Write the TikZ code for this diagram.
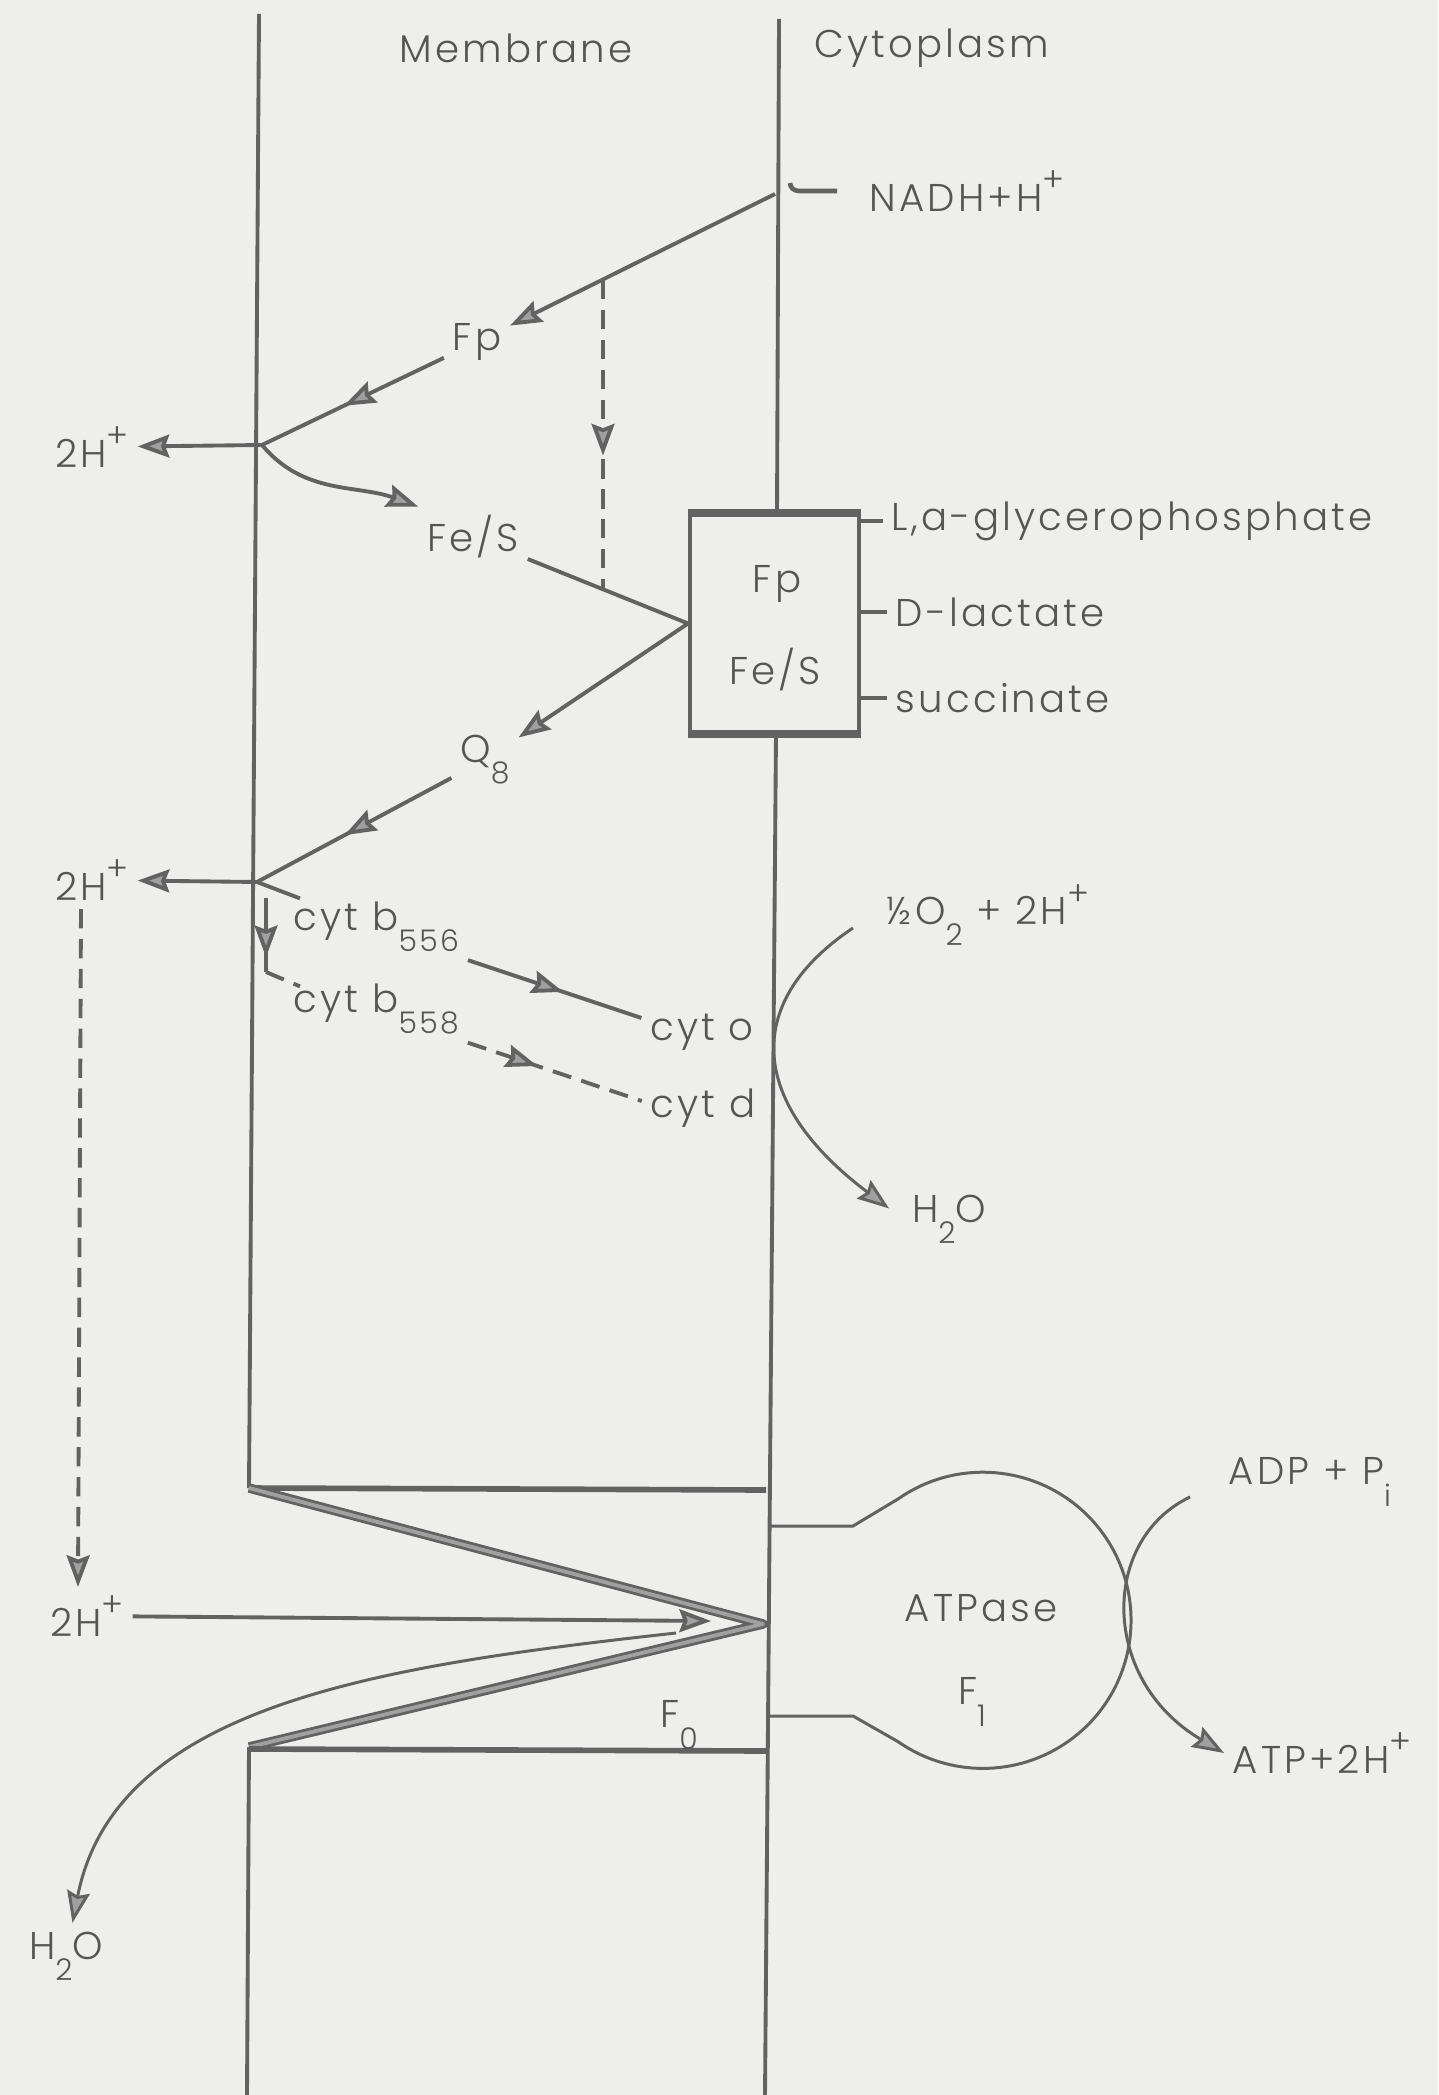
\documentclass[tikz,border=0pt]{standalone}
\usepackage{fontspec}
\setmainfont{Poppins}[UprightFont=* Light, LetterSpace=8]
\usetikzlibrary{arrows.meta,positioning,calc,decorations.markings}
\usepackage{xcolor}
\definecolor{paper}{RGB}{238,238,236}
\definecolor{ink}{RGB}{98,98,98}
\definecolor{txtgray}{RGB}{85,85,85}
\definecolor{tipfill}{RGB}{160,160,160}
\newcommand{\subtx}[1]{\raisebox{-6pt}{\fontsize{8.5}{9}\selectfont #1}}
\newcommand{\suptx}[1]{\raisebox{5.5pt}{\fontsize{9.5}{10}\selectfont #1}}

\begin{document}
\begin{tikzpicture}[
    x=0.01cm, y=-0.01cm, color=ink, line width=1.1pt,
    >={Stealth[length=9pt, width=6.5pt, inset=1.2pt, fill=tipfill]},
    lbl/.style={font=\fontsize{11}{13}\selectfont, text=txtgray, inner sep=2pt},
    curve/.style={line width=0.85pt},
    dashline/.style={dash pattern=on 5.5pt off 3pt},
    midarr/.style={postaction={decorate}, decoration={markings, mark=at position #1 with {\arrow{>}}}},
    funnel/.style={line width=0.8pt, double=tipfill, double distance=1.1pt, line join=round}
]
    \fill[paper] (0,0) rectangle (1438,2095);
    \useasboundingbox (0,0) rectangle (1438,2095);

    \draw (259,14) -- (249,1488);
    \draw (249,1747) -- (247,2095);
    \draw (779,19) -- (777,515);
    \draw (776,732) -- (765,2095);

    \draw[line width=1.6pt] (766,1490) -- (249,1488);
    \draw[funnel] (249,1488) -- (763,1624) -- (249,1747);
    \draw[line width=1.6pt] (249,1749) -- (766,1751);

    \node[lbl] (membr) at (516,48) {Membrane};
    \node[lbl] (cytop) at (932,48) {Cytoplasm};
    \node[lbl, anchor=west] (nadh) at (861,191) {NADH+H\suptx{+}};
    \node[lbl] (fp) at (477,342) {Fp};
    \node[lbl] (hp1) at (92,447) {2H\suptx{+}};
    \node[lbl] (fes) at (473,537) {Fe/S};
    \node[draw, fill=paper, minimum width=1.69cm, minimum height=2.17cm, inner sep=0pt] (dh) at (774.5,623.5) {};
    \node[lbl] (fpb) at (777,584) {Fp};
    \node[lbl] (fesb) at (775,670) {Fe/S};
    \node[lbl, anchor=west] (glyc) at (883,521) {L,a-glycerophosphate};
    \node[lbl, anchor=west] (lact) at (887,612) {D-lactate};
    \node[lbl, anchor=west] (succ) at (887,698) {succinate};
    \node[lbl] (q8) at (485,760) {Q\subtx{8}};
    \node[lbl] (hp2) at (92,880) {2H\suptx{+}};
    \node[lbl, anchor=base west] (b556) at (285,930) {cyt b\subtx{556}};
    \node[lbl, anchor=base west] (b558) at (285,1012) {cyt b\subtx{558}};
    \node[lbl] (cyto) at (702,1032) {cyt o};
    \node[lbl] (cytd) at (703,1108) {cyt d};
    \node[lbl, anchor=west] (o2) at (878,915) {½O\subtx{2} + 2H\suptx{+}};
    \node[lbl] (h2oa) at (949,1219) {H\subtx{2}O};
    \node[lbl] (hp3) at (87,1616) {2H\suptx{+}};
    \node[lbl] (h2ob) at (66,1956) {H\subtx{2}O};
    \node[lbl] (f0) at (679,1725) {F\subtx{0}};
    \node[lbl] (atpase) at (981,1608) {ATPase};
    \node[lbl] (f1) at (972,1702) {F\subtx{1}};
    \node[lbl, anchor=west] (adp) at (1220,1482) {ADP + P\subtx{i}};
    \node[lbl, anchor=west] (atp) at (1224,1753) {ATP+2H\suptx{+}};

    \coordinate (jn0) at (775,194);
    \coordinate (hook) at (790,183);
    \coordinate (j1) at (262,445);
    \coordinate (j2) at (257,882);
    \coordinate (dtop) at (603,280);
    \coordinate (dbot) at (603,588);
    \coordinate (vtop) at (266,898);
    \coordinate (vbot) at (266,972);
    \coordinate (f0in) at (711,1621);
    \coordinate (h2oin) at (676,1633);

    \draw[line width=2pt] (dh.north west) -- (dh.north east);
    \draw[line width=2pt] (dh.south west) -- (dh.south east);
    \draw (dh.east |- glyc) -- (glyc.west);
    \draw (dh.east |- lact) -- (lact.west);
    \draw (dh.east |- succ) -- (succ.west);
    \draw[line width=1.3pt] (hook) to[out=-90, in=180] ([xshift=-0.62cm]nadh.west) -- ([xshift=-0.24cm]nadh.west);

    \draw[->] (jn0) -- (fp);
    \draw[midarr=0.55] (fp) -- (j1);
    \draw[->] (j1) -- (hp1);
    \draw[->] (j1) to[out=-50, in=160] (fes.north west);
    \draw[dashline, midarr=0.57] (dtop) -- (dbot);
    \draw (fes) -- (dh.west);
    \draw[->] (dh.west) -- (q8);
    \draw[midarr=0.55] (q8) -- (j2);
    \draw[->] (j2) -- (hp2);
    \draw (j2) -- ([shift={(15,6)}]b556.north west);
    \draw[midarr=0.8] (vtop) -- (vbot);
    \draw[dashline] (vbot) -- ([shift={(15,12)}]b558.north west);
    \draw[midarr=0.55] (b556.south east) -- ([yshift=4pt]cyto.west);
    \draw[dashline, midarr=0.4] (b558.south east) -- ([yshift=2pt]cytd.west);
    \draw[dashline, ->] ([xshift=-0.11cm]hp2.south) -- ([xshift=-0.09cm]hp3.north);
    \draw[->] (hp3) -- (f0in);
    \draw[curve, ->] (h2oin) .. controls (378,1666) and (115,1705) .. (h2ob);

    \draw[curve, ->, shorten >=5pt] ([shift={(-25,13)}]o2.west) .. controls (745,1000) and (745,1100) .. (h2oa.west);

    \draw[curve] (770,1526) -- (853,1526) -- (898,1499) arc[start angle=125, end angle=-125, radius=1.48cm] -- (853,1716) -- (770,1716);
    \draw[curve, ->] ([shift={(-30,15)}]adp.west) .. controls (1100,1540) and (1100,1680) .. (atp.west);
\end{tikzpicture}
\end{document}
